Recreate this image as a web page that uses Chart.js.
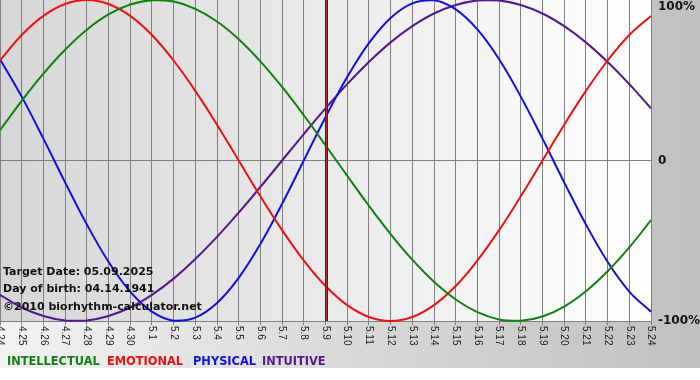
<!DOCTYPE html>
<html>
<head>
<meta charset="utf-8">
<script src="https://cdn.jsdelivr.net/npm/chart.js@4/dist/chart.umd.min.js"></script>
<style>
  html, body { margin: 0; padding: 0; background: #ffffff; }
  #wrap { width: 700px; height: 380px; position: relative; }
</style>
</head>
<body>
<div id="wrap"><canvas id="c" width="700" height="380"></canvas></div>
<script>
// ---- data ----
const days = ["4.24","4.25","4.26","4.27","4.28","4.29","4.30","5.1","5.2","5.3","5.4","5.5","5.6","5.7","5.8","5.9","5.10","5.11","5.12","5.13","5.14","5.15","5.16","5.17","5.18","5.19","5.20","5.21","5.22","5.23","5.24"];
const intellectual = [0.189,0.372,0.541,0.690,0.815,0.910,0.972,0.999,0.990,0.945,0.866,0.756,0.618,0.458,0.282,0.095,-0.095,-0.282,-0.458,-0.618,-0.756,-0.866,-0.945,-0.990,-0.999,-0.972,-0.910,-0.815,-0.690,-0.541,-0.372];
const emotional = [0.623,0.782,0.901,0.975,1.000,0.975,0.901,0.782,0.623,0.434,0.223,0.000,-0.223,-0.434,-0.623,-0.782,-0.901,-0.975,-1.000,-0.975,-0.901,-0.782,-0.623,-0.434,-0.223,0.000,0.223,0.434,0.623,0.782,0.901];
const physical = [0.631,0.398,0.136,-0.136,-0.398,-0.631,-0.817,-0.942,-0.998,-0.979,-0.888,-0.731,-0.520,-0.270,0.000,0.270,0.520,0.731,0.888,0.979,0.998,0.942,0.817,0.631,0.398,0.136,-0.136,-0.398,-0.631,-0.817,-0.942];
const intuitive = [-0.837,-0.916,-0.969,-0.997,-0.997,-0.969,-0.916,-0.837,-0.736,-0.614,-0.476,-0.325,-0.165,0.000,0.165,0.325,0.476,0.614,0.736,0.837,0.916,0.969,0.997,0.997,0.969,0.916,0.837,0.736,0.614,0.476,0.325];
const yTickValues = [1, 0, -1];
const yTickLabels = ["100%", "0", "-100%"];
const targetDay = "5.9";
const infoLines = ["Target Date: 05.09.2025", "Day of birth: 04.14.1941", "\u00A92010 biorhythm-calculator.net"];
const seriesNames = ["INTELLECTUAL", "EMOTIONAL", "PHYSICAL", "INTUITIVE"];

const colors = {
  INTELLECTUAL: "#128012",
  EMOTIONAL: "#ee1111",
  PHYSICAL: "#1111dd",
  INTUITIVE: "#541a8a"
};
const legendX = [7, 107, 193, 262];

const bgPlugin = {
  id: "bg",
  beforeDraw(chart) {
    const { ctx, chartArea: a, width } = chart;
    ctx.save();
    ctx.fillStyle = "#ffffff";
    ctx.fillRect(0, 0, width, chart.height);
    let g = ctx.createLinearGradient(0, 0, width, 0);
    g.addColorStop(0, "#f2f2f2");
    g.addColorStop(1, "#c0c0c0");
    ctx.fillStyle = g;
    ctx.fillRect(0, 0, width, 368);
    g = ctx.createLinearGradient(a.left, 0, a.right, 0);
    g.addColorStop(0, "#d6d6d6");
    g.addColorStop(1, "#ffffff");
    ctx.fillStyle = g;
    ctx.fillRect(a.left, a.top, a.right - a.left, a.bottom - a.top);
    ctx.restore();
  },
  afterDatasetsDraw(chart) {
    const { ctx, chartArea: a, scales } = chart;
    const x = Math.round(scales.x.getPixelForValue(days.indexOf(targetDay))) + 0.5;
    ctx.save();
    ctx.strokeStyle = "#5a1616";
    ctx.lineWidth = 3;
    ctx.beginPath(); ctx.moveTo(x, a.top); ctx.lineTo(x, a.bottom); ctx.stroke();
    ctx.strokeStyle = "#b83030";
    ctx.lineWidth = 1;
    ctx.beginPath(); ctx.moveTo(x, a.top); ctx.lineTo(x, a.bottom); ctx.stroke();
    ctx.restore();
  },
  afterDraw(chart) {
    const { ctx, chartArea: a, scales } = chart;
    ctx.save();
    // x tick labels, rotated clockwise
    ctx.fillStyle = "#222222";
    ctx.font = "10px 'Liberation Sans', Arial, sans-serif";
    ctx.textAlign = "left";
    ctx.textBaseline = "middle";
    days.forEach((d, i) => {
      const x = scales.x.getPixelForValue(i);
      ctx.save();
      ctx.translate(x, a.bottom + 5);
      ctx.rotate(Math.PI / 2);
      ctx.fillText(d, 0, 0);
      ctx.restore();
    });
    // y tick labels on the right
    ctx.fillStyle = "#111111";
    ctx.font = "bold 12px 'DejaVu Sans', Verdana, sans-serif";
    ctx.textAlign = "left";
    yTickValues.forEach((v, i) => {
      let y = scales.y.getPixelForValue(v);
      ctx.textBaseline = "middle";
      if (y < a.top + 7) { y = a.top + 7; }
      ctx.fillText(yTickLabels[i], a.right + 7, y);
    });
    // info text
    ctx.fillStyle = "#111111";
    ctx.font = "bold 11px 'DejaVu Sans', Verdana, sans-serif";
    ctx.textBaseline = "middle";
    const infoY = [272, 289, 307];
    infoLines.forEach((t, i) => ctx.fillText(t, 3, infoY[i]));
    // legend
    ctx.font = "bold 11.4px 'DejaVu Sans', Verdana, sans-serif";
    seriesNames.forEach((n, i) => {
      ctx.fillStyle = colors[n];
      ctx.fillText(n, legendX[i], 362);
    });
    ctx.restore();
  }
};

const mk = (name, data) => ({
  label: name,
  data: data,
  borderColor: colors[name],
  backgroundColor: colors[name],
  borderWidth: 2,
  pointRadius: 0,
  tension: 0.4,
  fill: false,
  clip: false
});

new Chart(document.getElementById("c"), {
  type: "line",
  data: {
    labels: days,
    datasets: [
      mk("INTELLECTUAL", intellectual),
      mk("EMOTIONAL", emotional),
      mk("PHYSICAL", physical),
      mk("INTUITIVE", intuitive)
    ]
  },
  options: {
    responsive: false,
    animation: false,
    layout: { padding: 0 },
    plugins: { legend: { display: false }, tooltip: { enabled: false } },
    scales: {
      x: {
        type: "category",
        offset: false,
        grid: { color: "#808080", lineWidth: 1, drawTicks: true, tickLength: 4, tickColor: "#808080" },
        border: { display: true, color: "#808080" },
        ticks: { display: false },
        afterFit(s) { s.height = 59; }
      },
      y: {
        position: "right",
        min: -1, max: 1,
        afterBuildTicks(s) { s.ticks = yTickValues.map(v => ({ value: v })); },
        grid: { color: (c) => (c.tick && c.tick.value === 0) ? "#808080" : "rgba(0,0,0,0)", drawTicks: false },
        border: { display: false },
        ticks: { display: false },
        afterFit(s) { s.width = 49; }
      }
    }
  },
  plugins: [bgPlugin]
});
</script>
</body>
</html>
